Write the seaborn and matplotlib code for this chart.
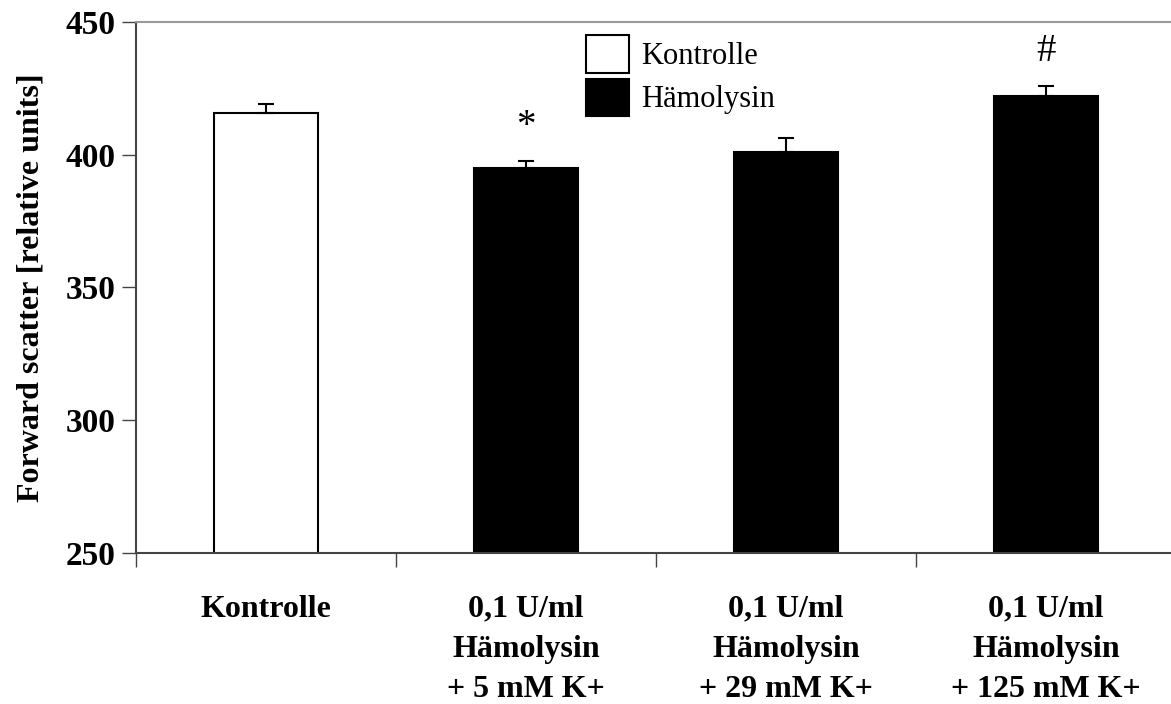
import numpy as np
import pandas as pd
import matplotlib
matplotlib.use("Agg")
import matplotlib.pyplot as plt
import seaborn as sns

categories = ["Kontrolle",
              "0,1 U/ml\nHämolysin\n+ 5 mM K+",
              "0,1 U/ml\nHämolysin\n+ 29 mM K+",
              "0,1 U/ml\nHämolysin\n+ 125 mM K+"]
groups = ["Kontrolle", "Hämolysin", "Hämolysin", "Hämolysin"]
values = [415.8, 395.0, 401.2, 422.0]
errors = [3.2, 2.8, 5.0, 3.9]
marks = ["", "*", "", "#"]

df = pd.DataFrame({"cond": categories, "group": groups, "fs": values})

sns.set_style("white")
plt.rcParams["font.family"] = ["Liberation Serif", "DejaVu Serif"]
plt.rcParams["text.color"] = "black"
plt.rcParams["axes.labelcolor"] = "black"
plt.rcParams["xtick.color"] = "black"
plt.rcParams["ytick.color"] = "black"

fig = plt.figure(figsize=(11.71, 7.04), dpi=100)
ax = fig.add_axes([136 / 1171, 1 - 553 / 704, 1 - 136 / 1171, (553 - 22) / 704])

sns.barplot(data=df, x="cond", y="fs", hue="group",
            palette={"Kontrolle": "white", "Hämolysin": "black"},
            dodge=False, width=0.4, edgecolor="black", linewidth=1.5,
            errorbar=None, ax=ax)

x = np.arange(len(categories))
ax.errorbar(x, values, yerr=[np.zeros(len(errors)), errors], fmt="none",
            ecolor="black", elinewidth=1.5, capsize=6, capthick=1.5)

for xi, v, e, m in zip(x, values, errors, marks):
    if m:
        ax.text(xi, v + e + 6, m, ha="center", va="bottom", fontsize=28)

ax.set_ylim(250, 450)
ax.set_xlim(-0.5, 3.48)
ax.set_yticks([250, 300, 350, 400, 450])
ax.set_xlabel("")
ax.set_ylabel("Forward scatter [relative units]", fontsize=23, fontweight="bold")
ax.yaxis.set_label_coords(-0.087, 0.5)

ax.set_xticks(x)
ax.set_xticklabels(categories, fontsize=23, fontweight="bold", linespacing=1.5)
ax.set_xticks(np.arange(len(categories)) - 0.5, minor=True)
ax.tick_params(axis="x", which="major", length=0, pad=30)
ax.tick_params(axis="x", which="minor", length=10, width=1, color="#444444",
               direction="out", bottom=True)
ax.tick_params(axis="y", length=10, width=1, color="#444444", direction="out",
               left=True, labelsize=24, pad=5)
for lab in ax.get_yticklabels():
    lab.set_fontweight("bold")

for s in ["left", "bottom"]:
    ax.spines[s].set_color("#444444")
    ax.spines[s].set_linewidth(1.5)
ax.spines["top"].set_color("#999999")
ax.spines["top"].set_linewidth(1.5)
ax.spines["right"].set_visible(False)

sns.move_legend(ax, "upper left", bbox_to_anchor=((586 - 136) / 1035, 0.975),
                title=None, frameon=False, fontsize=22,
                handlelength=1.4, handleheight=1.5, handletextpad=0.42,
                labelspacing=0.2, borderaxespad=0, borderpad=0)

fig.savefig("out.png", dpi=100)
